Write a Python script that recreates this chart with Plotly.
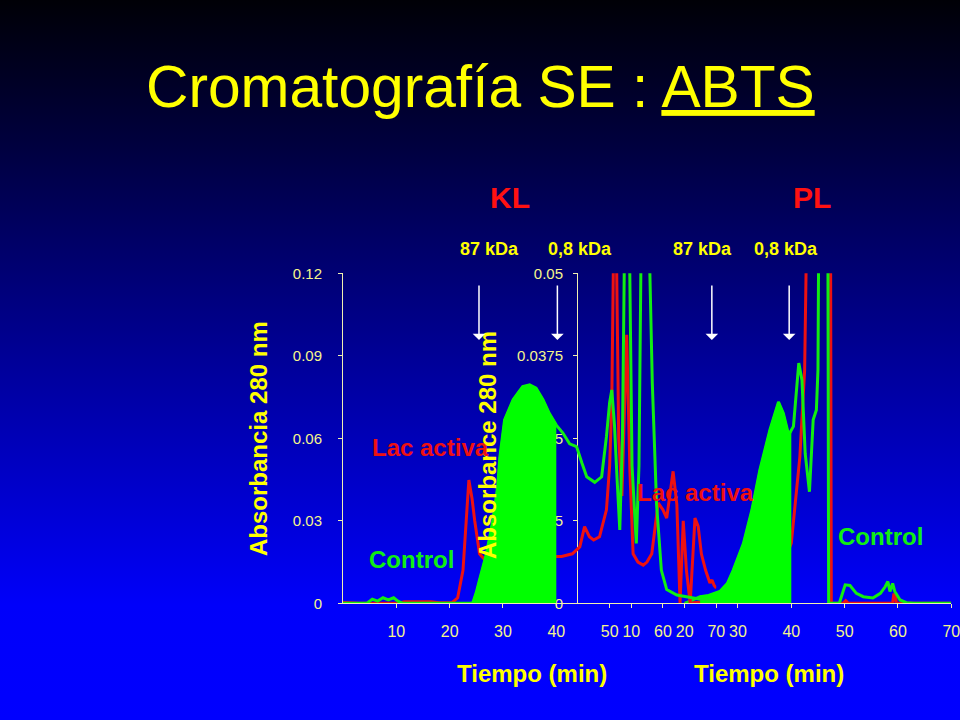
import base64
import plotly.graph_objects as go

# ---------------- data ----------------
# KL chromatogram (left axes): time in min, absorbance 280 nm
kl_red_t = [0, 1.5, 3, 10.5, 11.5, 16.5, 18, 20.5, 21.5, 22.5, 23.0, 23.6, 24.2, 24.7, 25.6, 26.5, 28, 32, 36, 40,
            41, 43, 44.4, 45.3, 46.2, 47, 48.1, 49.4, 50.0, 50.4, 50.8, 51.2, 51.7, 52.3, 52.8, 53.2, 53.8, 54.4,
            55.3, 56.3, 57.0, 57.9, 59.1, 60.0, 60.7, 61.4, 61.9, 62.6, 63.2, 63.8, 64.4, 65.1, 66.0, 66.6, 67.2,
            68.0, 68.8, 69.2, 69.6, 70.0]
kl_red_v = [0.0003, 0.0002, 0, 0, 0.0006, 0.0006, 0.0002, 0.0003, 0.002, 0.012, 0.028, 0.0448, 0.038, 0.030, 0.018,
            0.016, 0.016, 0.016, 0.017, 0.017, 0.017, 0.018, 0.0205, 0.0279, 0.0242, 0.023, 0.0242, 0.034, 0.05,
            0.073, 0.14, 0.14, 0.06, 0.039, 0.07, 0.0976, 0.048, 0.018, 0.015, 0.0139, 0.015, 0.018, 0.0365, 0.034,
            0.031, 0.042, 0.048, 0.036, 0.0, 0.030, 0.012, 0.0, 0.031, 0.028, 0.018, 0.012, 0.0074, 0.0085, 0.0065,
            0.0055]
kl_green_t = [0, 4.5, 5.5, 6.5, 7.5, 8.5, 9.5, 10.3, 11.2, 12, 24.0, 24.4, 25.0, 25.6, 26.2, 26.9, 27.5, 28.1, 29.0,
              29.4, 30.3, 31.9, 33.0, 33.7, 35.0, 36.2, 37.5, 38.7, 40.0, 41.2, 42.5, 43.8, 44.8, 45.7, 47.2, 48.5,
              49.4, 50.0, 50.4, 50.9, 51.4, 51.9, 52.4, 52.9, 53.6, 54.2, 55.0, 55.5, 56.0, 57.2, 58.0, 58.8, 59.7,
              60.7, 62.6, 65.4, 67, 70]
kl_green_v = [0, 0, 0.0015, 0.0008, 0.002, 0.0012, 0.002, 0.0008, 0, 0, 0, 0.0005, 0.004, 0.0085, 0.013, 0.018,
              0.024, 0.030, 0.0424, 0.053, 0.0667, 0.074, 0.077, 0.0788, 0.0794, 0.0782, 0.074, 0.069, 0.0648,
              0.062, 0.058, 0.057, 0.051, 0.046, 0.044, 0.046, 0.0606, 0.073, 0.0776, 0.065, 0.045, 0.0267, 0.06,
              0.15, 0.15, 0.05, 0.0218, 0.05, 0.15, 0.15, 0.08, 0.036, 0.012, 0.005, 0.003, 0.002, 0.0015, 0.001]
kl_fill_range = (24.4, 40.0)

# PL chromatogram (right axes)
pl_red_t = [20, 30, 35, 38, 40.0, 41.6, 42.5, 42.8, 43.3, 47.3, 47.5, 49.7, 50.2, 50.7, 59.0, 59.2, 59.5, 59.7, 70]
pl_red_v = [0, 0.0005, 0.002, 0.005, 0.0091, 0.0222, 0.0354, 0.0455, 0.08, 0.08, 0, 0, 0.0004, 0, 0, 0.0013,
            0.0013, 0, 0]
pl_green_t = [20, 22.9, 24.5, 26.6, 28, 29.1, 31, 32.6, 34.1, 36, 37.6, 38.5, 39.5, 40.0, 40.4, 41.4, 42.0, 42.6,
              43.4, 44.1, 44.7, 45.0, 45.3, 46.8, 47.0, 49.0, 50.1, 51.0, 52.2, 53.5, 55.3, 56.7, 57.6, 58.1,
              58.5, 59.0, 59.4, 60.4, 61.6, 63, 70]
pl_green_v = [0, 0.001, 0.0012, 0.0018, 0.003, 0.005, 0.009, 0.0141, 0.0202, 0.0263, 0.0305, 0.0288, 0.0255,
              0.0263, 0.0268, 0.0364, 0.0338, 0.0227, 0.0169, 0.0278, 0.0293, 0.0354, 0.08, 0.08, 0, 0, 0.0028,
              0.0027, 0.0015, 0.001, 0.0008, 0.0015, 0.0025, 0.0033, 0.0018, 0.003, 0.0018, 0.0005, 0.0001, 0, 0]
pl_fill_range = (22.9, 40.0)

x_ticks = [10, 20, 30, 40, 50, 60, 70]
kl_y_ticks = [0, 0.03, 0.06, 0.09, 0.12]
kl_y_text = ["0", "0.03", "0.06", "0.09", "0.12"]
pl_y_ticks = [0, 0.0125, 0.025, 0.0375, 0.05]
pl_y_text = ["0", "0.0125", "0.025", "0.0375", "0.05"]

# elution markers (min) : 87 kDa and 0,8 kDa
kl_marker_t = [25.5, 40.2]
pl_marker_t = [25.1, 39.6]

# ---------------- styling ----------------
W, H = 960, 720
FONT = "Liberation Sans, Arial, sans-serif"
RED = "#ee1111"
GREEN = "#11ee11"
FILLG = "#00ff00"
YEL = "#ffff00"
TICKC = "#f5f58c"
AXC = "#f0f0b0"


def px(x):
    return x / W


def py(y):
    return 1 - y / H


fig = go.Figure()


def add_chart(t_red, v_red, t_green, v_green, frange, xa, ya):
    fig.add_trace(go.Scatter(x=t_red, y=v_red, mode="lines", line=dict(color=RED, width=3),
                             xaxis=xa, yaxis=ya, hoverinfo="skip"))
    fig.add_trace(go.Scatter(x=t_green, y=v_green, mode="lines", line=dict(color=GREEN, width=3),
                             xaxis=xa, yaxis=ya, hoverinfo="skip"))
    ft = [t for t in t_green if frange[0] <= t <= frange[1]]
    fv = [v for t, v in zip(t_green, v_green) if frange[0] <= t <= frange[1]]
    fig.add_trace(go.Scatter(x=ft, y=fv, mode="lines", fill="tozeroy", fillcolor=FILLG,
                             line=dict(color=FILLG, width=2), xaxis=xa, yaxis=ya, hoverinfo="skip"))


# PL first (drawn below), KL second (drawn above)
add_chart(pl_red_t, pl_red_v, pl_green_t, pl_green_v, pl_fill_range, "x", "y")
add_chart(kl_red_t, kl_red_v, kl_green_t, kl_green_v, kl_fill_range, "x2", "y2")

ydom = [py(603.3), py(273.3)]
common_x = dict(range=[0, 70], tickvals=x_ticks, ticks="outside", ticklen=4, tickcolor=AXC,
                showline=True, linecolor=AXC, linewidth=1, showgrid=False, zeroline=False,
                ticklabelstandoff=9, automargin=False, ticklabeloverflow="allow",
                tickfont=dict(family=FONT, size=16, color=TICKC), fixedrange=True)
common_y = dict(ticks="outside", ticklen=4, tickcolor=AXC, showline=True, linecolor=AXC, linewidth=1,
                showgrid=False, zeroline=False, domain=ydom, automargin=False,
                tickfont=dict(family=FONT, size=15, color=TICKC), fixedrange=True)

fig.update_layout(
    xaxis=dict(domain=[px(578), px(951.3)], anchor="y", **common_x),
    yaxis=dict(range=[0, 0.05], tickvals=pl_y_ticks, ticktext=pl_y_text, anchor="x",
               ticklabelstandoff=7, **common_y),
    xaxis2=dict(domain=[px(343), px(716.3)], anchor="y2", **common_x),
    yaxis2=dict(range=[0, 0.12], tickvals=kl_y_ticks, ticktext=kl_y_text, anchor="x2",
                ticklabelstandoff=13, **common_y),
)

# smooth vertical gradient background (SVG image)
svg = (
    f'<svg xmlns="http://www.w3.org/2000/svg" width="{W}" height="{H}">'
    '<defs><linearGradient id="g" x1="0" y1="0" x2="0" y2="1">'
    '<stop offset="0" stop-color="#000006"/>'
    '<stop offset="0.2" stop-color="#00003e"/>'
    '<stop offset="0.5" stop-color="#000098"/>'
    '<stop offset="0.84" stop-color="#0000fa"/>'
    '<stop offset="1" stop-color="#0000ff"/>'
    '</linearGradient></defs>'
    f'<rect width="{W}" height="{H}" fill="url(#g)"/></svg>'
)
bg_src = "data:image/svg+xml;base64," + base64.b64encode(svg.encode()).decode()

ann = []


def text(s, x, y, size, color, bold=True, angle=0):
    ann.append(dict(text=f"<b>{s}</b>" if bold else s, x=px(x), y=py(y), xref="paper", yref="paper",
                    xanchor="center", yanchor="middle", showarrow=False, textangle=angle,
                    font=dict(family=FONT, size=size, color=color)))


text("Cromatografía SE : <u>ABTS</u>", 480, 86.5, 58.7, YEL, bold=False)
text("KL", 510, 197, 30, "#ff1111")
text("PL", 812, 197, 30, "#ff1111")
text("87 kDa", 490, 249, 18, YEL)
text("0,8 kDa", 580, 249, 18, YEL)
text("87 kDa", 702, 249, 18, YEL)
text("0,8 kDa", 786, 249, 18, YEL)
text("Absorbancia 280 nm", 258, 439, 24, YEL, angle=-90)
text("Absorbance 280 nm", 487, 445, 24, YEL, angle=-90)
text("Lac activa", 430, 447, 24, RED)
text("Control", 411, 559, 24, GREEN)
text("Lac activa", 695, 492, 24, RED)
text("Control", 880, 536, 24, GREEN)
text("Tiempo (min)", 532, 673, 24, YEL)
text("Tiempo (min)", 769, 673, 24, YEL)

for t in kl_marker_t:
    ann.append(dict(x=t, y=py(340), xref="x2", yref="paper", text="", showarrow=True, arrowhead=1,
                    arrowsize=1.4, arrowwidth=1.5, arrowcolor="white", ax=0, ay=-56, standoff=0))
for t in pl_marker_t:
    ann.append(dict(x=t, y=py(340), xref="x", yref="paper", text="", showarrow=True, arrowhead=1,
                    arrowsize=1.4, arrowwidth=1.5, arrowcolor="white", ax=0, ay=-56, standoff=0))

fig.update_layout(
    width=W, height=H, autosize=False,
    margin=dict(l=0, r=0, t=0, b=0, pad=0, autoexpand=False),
    paper_bgcolor="rgb(0,0,40)", plot_bgcolor="rgba(0,0,0,0)",
    showlegend=False, annotations=ann,
    images=[dict(source=bg_src, xref="paper", yref="paper", x=0, y=1, sizex=1, sizey=1,
                 xanchor="left", yanchor="top", sizing="stretch", layer="below")],
)

fig.write_html("out.html", config={"displayModeBar": False},
               post_script="document.body.style.margin='0';document.body.style.overflow='hidden';")
